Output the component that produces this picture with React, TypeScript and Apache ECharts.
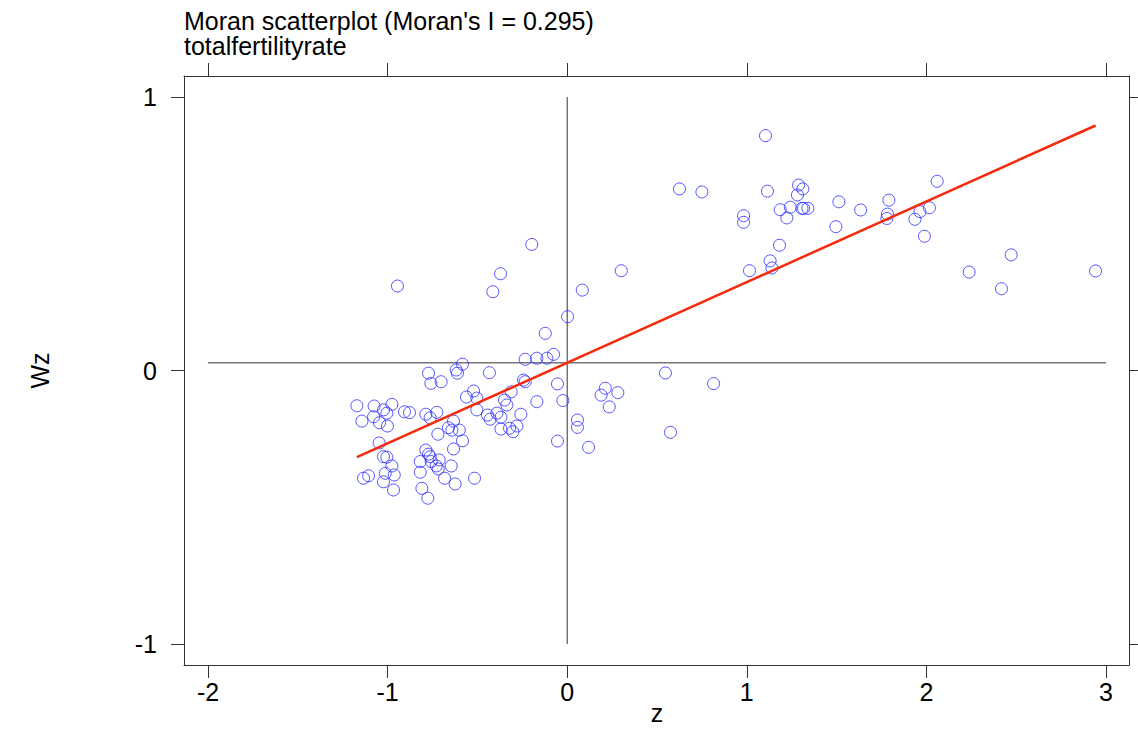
import React, { useEffect, useRef } from "react";
import * as echarts from "echarts";

const titleLine1 = "Moran scatterplot (Moran's I = 0.295)";
const titleLine2 = "totalfertilityrate";
const xName = "z";
const yName = "Wz";

const xTicks = [-2, -1, 0, 1, 2, 3];
const yTicks = [-1, 0, 1];

const zValues = [
  1.104, 0.625, 0.75, 1.115, 1.288, 1.312, 1.282, 1.186, 1.242, 1.223, 1.307, 1.316, 1.34, 0.982, 0.982,
  1.513, 1.496, 1.634, 1.182, 1.13, 1.14, 1.015, 0.301, 1.791, 1.783, 1.78, 2.06, 1.964, 2.017, 1.936,
  1.989, 2.238, 2.472, 2.418, 2.942,
  -0.197, -0.371, -0.414, -0.945, 0.002, -0.122, -0.076, -0.113, -0.169, -0.234, 0.084, -0.433, -0.243,
  -0.234, -0.054, -0.312, -0.349, -0.336, -0.169, -0.024, -0.444, -0.429, -0.391, -0.369, -0.258, -0.369,
  -0.321, -0.302, -0.28, -0.054, 0.057, 0.057, 0.119, 0.212, 0.189, 0.282, 0.234, 0.547, 0.815, 0.575,
  -0.503, -0.503, -0.521, -0.561,
  -0.772, -0.759, -0.702, -0.618, -0.611, -0.583, -1.171, -1.143, -1.075, -1.078, -1.023, -1.004, -0.976,
  -1.045, -1.001, -0.906, -0.878, -0.787, -0.763, -0.726, -0.72, -0.633, -0.661, -0.642, -0.601, -0.583,
  -0.633, -0.787, -0.772, -0.763, -0.818, -0.818, -0.757, -0.729, -0.713, -0.718, -0.646, -0.683, -0.624,
  -0.516, -0.809, -0.776, -1.047, -1.023, -1.004, -0.976, -1.013, -0.963, -1.023, -0.967, -1.134, -1.106,
];

const wzValues = [
  0.859, 0.664, 0.653, 0.656, 0.678, 0.664, 0.642, 0.588, 0.597, 0.558, 0.593, 0.593, 0.593, 0.566, 0.542,
  0.617, 0.526, 0.587, 0.458, 0.401, 0.375, 0.365, 0.365, 0.623, 0.572, 0.556, 0.692, 0.581, 0.595, 0.553,
  0.491, 0.36, 0.423, 0.299, 0.364,
  0.461, 0.354, 0.288, 0.309, 0.197, 0.136, 0.059, 0.045, 0.045, 0.041, 0.294, -0.008, -0.035,
  -0.041, -0.049, -0.078, -0.108, -0.126, -0.114, -0.11, -0.163, -0.178, -0.156, -0.171, -0.16, -0.214,
  -0.211, -0.224, -0.203, -0.258, -0.181, -0.208, -0.281, -0.065, -0.09, -0.081, -0.133, -0.009, -0.048, -0.226,
  -0.144, -0.101, -0.075, -0.097,
  -0.01, -0.047, -0.041, 0.002, -0.01, 0.023, -0.129, -0.185, -0.13, -0.169, -0.144, -0.156, -0.124,
  -0.191, -0.203, -0.151, -0.154, -0.16, -0.173, -0.153, -0.233, -0.185, -0.209, -0.218, -0.218, -0.257,
  -0.287, -0.291, -0.306, -0.315, -0.333, -0.372, -0.333, -0.349, -0.327, -0.36, -0.349, -0.394, -0.415,
  -0.394, -0.431, -0.467, -0.265, -0.315, -0.317, -0.349, -0.376, -0.382, -0.407, -0.437, -0.394, -0.385,
];

// regression line end points
const fitZ = [-1.171, 2.942];
const fitWz = [-0.317, 0.896];

// reference lines
const meanWz = 0.028;
const hLineZ = [-2, 3];
const vLineWz = [-1, 1];

const FONT = "'Liberation Sans', Arial, sans-serif";
const AXIS_COLOR = "#333333";
const FS = 25;

export default function App() {
  const ref = useRef<HTMLDivElement>(null);

  useEffect(() => {
    if (!ref.current) return;
    const chart = echarts.init(ref.current, null, { renderer: "svg" });

    const scatterData = zValues.map((z, i) => [z, wzValues[i]]);
    const xMin = -2.1336;
    const xMax = 3.128;
    const yMin = -1.077;
    const yMax = 1.077;

    const axisLine = { show: true, onZero: false, lineStyle: { color: AXIS_COLOR, width: 1 } };
    const titleStyle = {
      fontFamily: FONT,
      fontSize: FS,
      fontWeight: "normal",
      color: "#000000",
      lineHeight: 24,
    };

    chart.setOption({
      animation: false,
      backgroundColor: "#ffffff",
      title: [
        { text: titleLine1, left: 184, top: 9, padding: 0, textStyle: titleStyle },
        { text: titleLine2, left: 184, top: 34, padding: 0, textStyle: titleStyle },
      ],
      graphic: [
        {
          type: "text",
          x: 657,
          y: 713,
          style: {
            text: xName,
            fontFamily: FONT,
            fontSize: FS,
            fill: "#000000",
            align: "center",
            verticalAlign: "middle",
          },
        },
      ],
      grid: {
        left: 184,
        right: 9,
        top: 76,
        bottom: 64,
        containLabel: false,
        outerBoundsMode: "none",
      },
      xAxis: [
        {
          type: "value",
          position: "bottom",
          min: xMin,
          max: xMax,
          axisLine,
          axisTick: { show: true, length: 13, customValues: xTicks, lineStyle: { color: AXIS_COLOR } },
          axisLabel: {
            show: true,
            customValues: xTicks,
            margin: 14,
            fontFamily: FONT,
            fontSize: FS,
            color: "#000000",
            formatter: (v: number) => String(v),
          },
          splitLine: { show: false },
        },
        {
          type: "value",
          position: "top",
          min: xMin,
          max: xMax,
          axisLine,
          axisTick: { show: true, length: 13, customValues: xTicks, lineStyle: { color: AXIS_COLOR } },
          axisLabel: { show: false },
          splitLine: { show: false },
        },
      ],
      yAxis: [
        {
          type: "value",
          position: "left",
          min: yMin,
          max: yMax,
          name: yName,
          nameLocation: "middle",
          nameGap: 132,
          nameTextStyle: { fontFamily: FONT, fontSize: FS, color: "#000000" },
          axisLine,
          axisTick: { show: true, length: 13, customValues: yTicks, lineStyle: { color: AXIS_COLOR } },
          axisLabel: {
            show: true,
            customValues: yTicks,
            margin: 27,
            fontFamily: FONT,
            fontSize: FS,
            color: "#000000",
            formatter: (v: number) => String(v),
          },
          splitLine: { show: false },
        },
        {
          type: "value",
          position: "right",
          min: yMin,
          max: yMax,
          axisLine,
          axisTick: { show: true, length: 13, customValues: yTicks, lineStyle: { color: AXIS_COLOR } },
          axisLabel: { show: false },
          splitLine: { show: false },
        },
      ],
      series: [
        {
          type: "line",
          data: hLineZ.map((z) => [z, meanWz]),
          symbol: "none",
          lineStyle: { color: AXIS_COLOR, width: 1 },
          silent: true,
          z: 1,
        },
        {
          type: "line",
          data: vLineWz.map((w) => [0, w]),
          symbol: "none",
          lineStyle: { color: AXIS_COLOR, width: 1 },
          silent: true,
          z: 1,
        },
        {
          type: "scatter",
          data: scatterData,
          symbol: "circle",
          symbolSize: 12,
          itemStyle: { color: "rgba(0,0,0,0)", borderColor: "#2b2bff", borderWidth: 1 },
          z: 2,
        },
        {
          type: "line",
          data: fitZ.map((z, i) => [z, fitWz[i]]),
          symbol: "none",
          lineStyle: { color: "#f52a0a", width: 2.5 },
          z: 3,
        },
      ],
    });

    return () => chart.dispose();
  }, []);

  return (
    <div
      ref={ref}
      style={{ position: "fixed", left: 0, top: 0, width: 1138, height: 729, background: "#fff" }}
    />
  );
}
